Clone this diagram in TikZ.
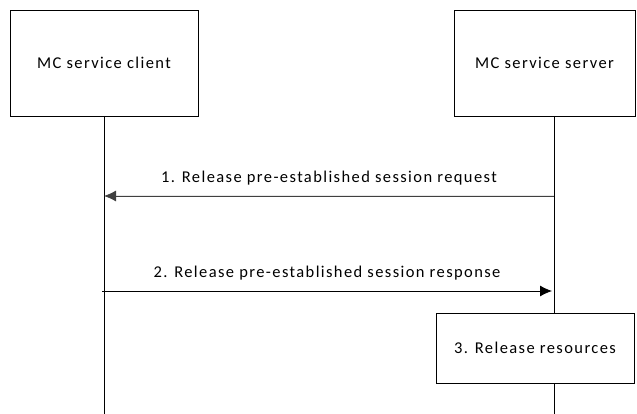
\documentclass[tikz,border=0pt]{standalone}
\usepackage{fontspec}
\setmainfont[LetterSpace=8.5]{Carlito}
\usetikzlibrary{arrows.meta}

\begin{document}
\begin{tikzpicture}[x=1pt,y=-1pt,line width=0.8pt,font=\fontsize{16.5}{19}\selectfont]
\useasboundingbox (0,0) rectangle (637,414);

\node[draw, minimum width=188pt, minimum height=106pt, inner sep=0pt] (C) at (104,63) {MC service client};
\node[draw, minimum width=181pt, minimum height=106pt, inner sep=0pt] (S) at (544.5,63) {MC service server};
\node[draw, fill=white, minimum width=198pt, minimum height=70pt, inner sep=0pt] (R) at (535,348) {3. Release resources};

\coordinate (C0) at (104,116);
\coordinate (C1) at (104,196);
\coordinate (C2) at (102,291);
\coordinate (C3) at (104,414);
\coordinate (S0) at (554,116);
\coordinate (S1) at (554,196);
\coordinate (S2) at (552,291);
\coordinate (S3) at (554,414);

% lifelines
\draw (C0) -- (C3);
\draw (S0) -- (R.north -| S0);
\draw (R.south -| S0) -- (S3);

\path (S1) edge [-{Latex[length=12pt,width=11pt]}, draw=black!75, fill=black!75] node[above=7pt, text=black]{1. Release pre-established session request} (C1);
\path (C2) edge [-{Latex[length=12pt,width=11pt]}] node[above=7pt]{2. Release pre-established session response} (S2);
\end{tikzpicture}
\end{document}
